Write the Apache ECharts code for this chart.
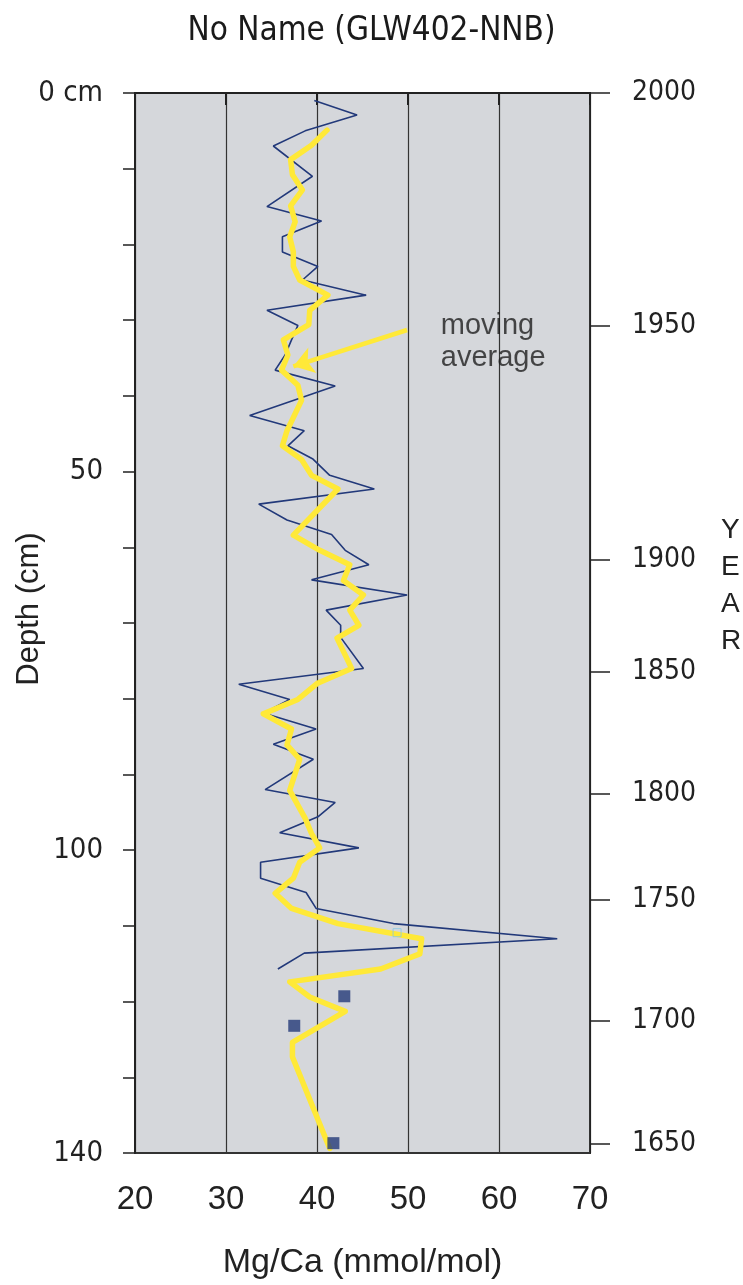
<!DOCTYPE html>
<html>
<head>
<meta charset="utf-8">
<title>No Name (GLW402-NNB)</title>
<script src="https://cdn.jsdelivr.net/npm/echarts@6/dist/echarts.min.js"></script>
<style>
  html, body { margin: 0; padding: 0; background: #fff; }
  #myChart { width: 743px; height: 1285px; }
</style>
</head>
<body>
<div id="myChart"></div>
<script>
// Mg/Ca gegen Tiefe, Rohwerte [wert, tiefe cm]
var rawData = [
  [39.7, 1.0], [44.4, 2.9], [38.7, 5.0], [35.2, 7.0], [39.5, 11.0], [34.5, 15.0],
  [40.5, 16.9], [36.2, 19.0], [36.2, 21.0], [40.1, 22.9], [38.4, 24.7], [45.4, 26.7],
  [34.5, 28.7], [37.9, 30.7], [37.2, 32.6], [36.5, 34.6], [35.4, 36.6], [42.0, 38.7],
  [32.6, 42.6], [38.6, 44.6], [36.8, 46.6], [39.5, 48.3], [41.4, 50.5], [46.3, 52.3],
  [33.6, 54.3], [36.7, 56.4], [41.6, 58.3], [43.1, 60.4], [45.7, 62.3], [39.4, 64.3],
  [49.9, 66.3], [41.0, 68.3], [42.6, 70.3], [42.6, 71.9], [45.1, 76.0], [31.4, 78.1],
  [37.0, 80.1], [34.1, 81.9], [39.9, 84.0], [35.2, 86.0], [39.6, 88.0], [34.3, 92.0],
  [42.0, 93.7], [40.1, 95.6], [35.9, 97.7], [44.6, 99.7], [33.8, 101.6], [33.8, 103.7],
  [38.8, 105.6], [39.9, 107.7], [48.4, 109.7], [66.4, 111.7], [38.6, 113.6], [35.7, 115.7]
];

// gleitender mittelwert
var avgData = [
  [41.1, 4.9], [39.4, 6.9], [37.1, 8.8], [37.3, 10.8], [38.4, 12.8], [37.1, 14.9],
  [37.6, 17.0], [37.0, 19.0], [37.4, 21.0], [37.4, 22.9], [38.1, 24.7], [41.2, 26.7],
  [39.2, 28.7], [39.1, 30.6], [36.3, 32.6], [36.8, 34.6], [36.1, 36.6], [37.9, 38.6],
  [38.3, 40.6], [36.7, 44.6], [36.2, 46.6], [38.3, 48.4], [39.4, 50.5], [42.3, 52.3],
  [37.4, 58.4], [40.3, 60.4], [43.6, 62.3], [42.9, 64.4], [45.1, 66.3], [43.6, 68.3],
  [44.6, 70.3], [42.2, 72.0], [43.8, 76.0], [40.0, 78.0], [37.9, 80.1], [34.1, 82.0],
  [37.2, 84.0], [36.7, 86.1], [38.1, 88.0], [37.0, 92.1], [38.7, 95.8], [39.4, 97.8],
  [40.3, 99.7], [38.1, 101.6], [37.4, 103.7], [35.4, 105.7], [37.2, 107.7], [42.3, 109.7],
  [51.5, 111.7], [51.3, 113.7], [47.0, 115.7], [37.0, 117.4], [39.2, 119.4], [43.1, 121.3],
  [37.3, 125.4], [37.3, 127.3], [41.4, 139.4]
];

var squareData = [[43.0, 119.3], [37.5, 123.2], [41.8, 138.7]];
var openSquareData = [[48.8, 110.9]];

// Pfeil + beschriftung
var arrowFrom = [49.9, 31.3];
var arrowTo = [37.4, 36.1];
var notePoint = [53.6, 32.9];

var depthLabelValues = [0, 50, 100, 140];
var yearLabels = ['2000', '1950', '1900', '1850', '1800', '1750', '1700', '1650'];
var yearDepths = [0, 30.7, 61.7, 76.4, 92.6, 106.6, 122.5, 138.8];

var narrow = "'Liberation Sans Narrow', 'DejaVu Sans Condensed', sans-serif";
var sans = "'Liberation Sans', Arial, sans-serif";

var chart = echarts.init(document.getElementById('myChart'));
chart.setOption({
  backgroundColor: '#ffffff',
  animation: false,
  title: {
    text: 'No Name (GLW402-NNB)',
    left: 'center',
    top: 10,
    textStyle: { fontFamily: narrow, fontSize: 33, fontWeight: 'normal', color: '#1a1a1a' }
  },
  grid: {
    left: 135, right: 153, top: 93, bottom: 132,
    outerBoundsMode: 'none',
    containLabel: false,
    show: true,
    backgroundColor: '#d5d7db',
    borderColor: '#333',
    borderWidth: 2
  },
  xAxis: {
    type: 'value',
    min: 20, max: 70, interval: 10,
    axisLine: { show: true, lineStyle: { color: '#222', width: 2 } },
    axisTick: { show: true, length: 12, lineStyle: { color: '#222', width: 2 } },
    axisLabel: { fontFamily: sans, fontSize: 33, color: '#222', margin: 30 },
    splitLine: { show: true, lineStyle: { color: '#333', width: 1.2 } },
    name: 'Mg/Ca (mmol/mol)',
    nameLocation: 'middle',
    nameGap: 93,
    nameTextStyle: { fontFamily: sans, fontSize: 34, color: '#222' }
  },
  yAxis: [
    {
      type: 'value',
      inverse: true,
      min: 0, max: 140, interval: 10,
      position: 'left',
      axisLine: { show: true, lineStyle: { color: '#222', width: 2 } },
      axisTick: { show: true, length: 12, lineStyle: { color: '#222', width: 1.5 } },
      axisLabel: {
        customValues: depthLabelValues,
        formatter: function (v) { return v === 0 ? '0 cm' : String(v); },
        fontFamily: narrow, fontSize: 29, color: '#222', margin: 32,
        padding: [0, 0, 14, 0]
      },
      splitLine: { show: false },
      name: 'Depth (cm)',
      nameLocation: 'middle',
      nameGap: 90,
      nameMoveOverlap: false,
      nameTextStyle: { fontFamily: sans, fontSize: 31, color: '#222', padding: [0, 0, 0, 28] }
    },
    {
      type: 'value',
      inverse: true,
      min: 0, max: 140,
      position: 'right',
      axisLine: { show: true, lineStyle: { color: '#222', width: 1 } },
      axisTick: { show: true, customValues: yearDepths, length: 20, lineStyle: { color: '#222', width: 1.5 } },
      axisLabel: {
        customValues: yearDepths,
        formatter: function (v) { return yearLabels[yearDepths.indexOf(v)]; },
        fontFamily: narrow, fontSize: 28, color: '#222', margin: 42,
        padding: [0, 0, 14, 0]
      },
      splitLine: { show: false },
      // leere zeilen unten schieben den block nach oben
      name: 'Y\nE\nA\nR\n\n',
      nameLocation: 'middle',
      nameRotate: 0,
      nameGap: 131,
      nameTextStyle: { fontFamily: sans, fontSize: 28, lineHeight: 37, color: '#222' }
    }
  ],
  series: [
    {
      name: 'Mg/Ca',
      type: 'line',
      data: rawData,
      showSymbol: false,
      symbol: 'none',
      lineStyle: { color: '#22397a', width: 1.6 },
      z: 3
    },
    {
      name: 'moving average',
      type: 'line',
      data: avgData,
      showSymbol: false,
      symbol: 'none',
      lineStyle: { color: '#ffe938', width: 5.5, join: 'round', cap: 'round' },
      z: 4
    },
    {
      type: 'scatter',
      data: squareData,
      symbol: 'rect',
      symbolSize: 12,
      itemStyle: { color: '#233a78' },
      z: 5
    },
    {
      type: 'scatter',
      data: openSquareData,
      symbol: 'rect',
      symbolSize: 8,
      itemStyle: { color: 'rgba(0,0,0,0)', borderColor: '#86c8e6', borderWidth: 1 },
      z: 5
    },
    {
      type: 'lines',
      coordinateSystem: 'cartesian2d',
      data: [{ coords: [arrowFrom, arrowTo] }],
      symbol: ['none', 'arrow'],
      symbolSize: 20,
      lineStyle: { color: '#ffe938', width: 4.5, opacity: 1 },
      z: 4
    },
    {
      type: 'scatter',
      data: [notePoint],
      symbolSize: 0,
      silent: true,
      label: {
        show: true,
        position: [0, 0],
        align: 'left',
        verticalAlign: 'middle',
        formatter: 'moving\naverage',
        fontFamily: sans,
        fontSize: 29,
        lineHeight: 32,
        color: '#1e1e1e'
      },
      z: 6
    }
  ]
});
</script>
</body>
</html>
